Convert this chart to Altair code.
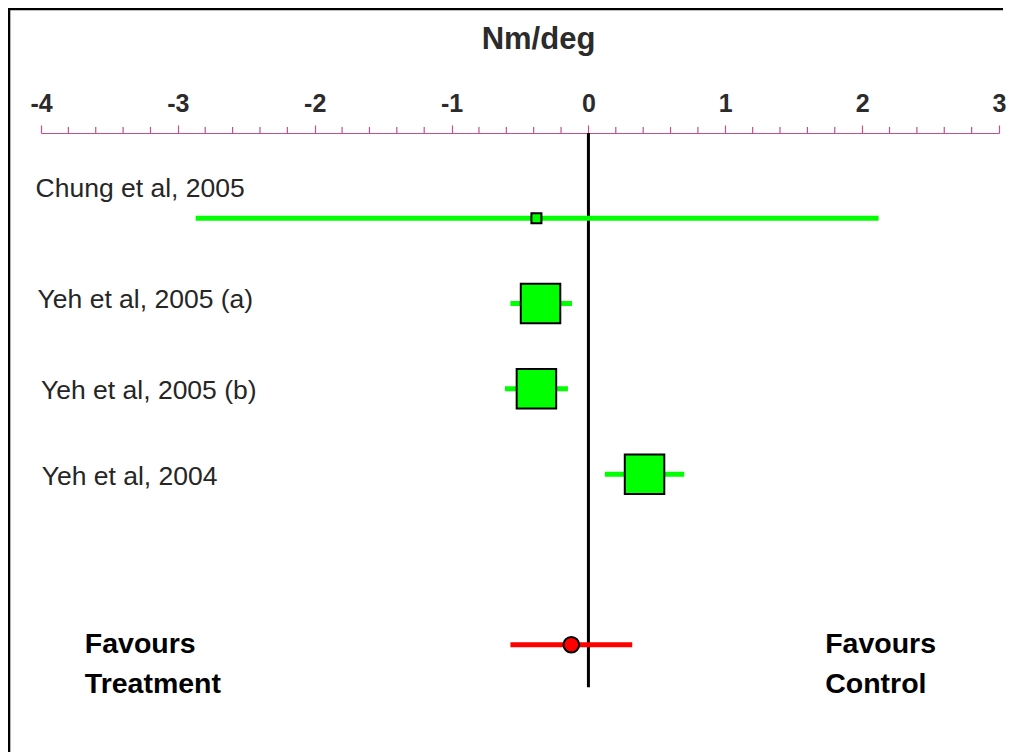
import altair as alt
import pandas as pd

# ---- data ----
studies = ["Chung et al, 2005", "Yeh et al, 2005 (a)", "Yeh et al, 2005 (b)", "Yeh et al, 2004"]
study_rows = [1, 2, 3, 4]
est = [-0.38, -0.35, -0.38, 0.41]
lo = [-2.87, -0.57, -0.61, 0.12]
hi = [2.12, -0.12, -0.15, 0.70]
weight = [100, 1560, 1560, 1560]  # marker area (relative study weight)

summary_row = [6]
summary_est = [-0.125]
summary_lo = [-0.57]
summary_hi = [0.32]

label_x = [-4.04, -4.025, -4.0, -3.995]
label_rows = [0.75, 2.05, 3.12, 4.13]

side_text = ["Favours\nTreatment", "Favours\nControl"]
side_x = [-3.68, 1.73]
side_row = [6.10, 6.10]

major_ticks = [-4, -3, -2, -1, 0, 1, 2, 3]
minor_ticks = [round(-4 + 0.2 * i, 1) for i in range(36) if i % 5 != 0]

FONT = "Liberation Sans"
AX = "#c0508f"

studies_df = pd.DataFrame({"study": studies, "row": study_rows, "est": est,
                           "lo": lo, "hi": hi, "w": weight})
labels_df = pd.DataFrame({"study": studies, "lx": label_x, "ly": label_rows})
sum_df = pd.DataFrame({"row": summary_row, "est": summary_est,
                       "lo": summary_lo, "hi": summary_hi})
side_df = pd.DataFrame({"t": side_text, "x": side_x, "y": side_row})
minor_df = pd.DataFrame({"v": minor_ticks})
zero_df = pd.DataFrame({"x": [0], "y": [0], "y2": [6.5]})

xscale = alt.Scale(domain=[-4, 3], nice=False, zero=False)
yscale = alt.Scale(domain=[0, 7], reverse=True, nice=False, zero=False)

x_axis = alt.Axis(orient="top", values=major_ticks, title="Nm/deg",
                  labelExpr="datum.value + ''",
                  titleFont=FONT, titleFontSize=31, titleFontWeight="bold",
                  titleColor="#2b2b2b", titleX=497, titleY=-85,
                  titleBaseline="alphabetic", titleAnchor="start", titleAlign="center",
                  labelFont=FONT, labelFontSize=25, labelFontWeight="bold",
                  labelColor="#2b2b2b", labelBaseline="alphabetic",
                  labelPadding=14, labelFlush=False, labelOverlap=False,
                  tickSize=8, tickColor=AX, tickWidth=1.2,
                  domainColor=AX, domainWidth=1.2, grid=False)

base_x = alt.X("lo:Q", scale=xscale, axis=x_axis)

frame = pd.DataFrame({"d": [0]})
border_top = alt.Chart(frame).mark_rect(color="black", opacity=1).encode(
    x=alt.value(-33), x2=alt.value(962), y=alt.value(-125.2), y2=alt.value(-122.7))
border_left = alt.Chart(frame).mark_rect(color="black", opacity=1).encode(
    x=alt.value(-33.2), x2=alt.value(-30.7), y=alt.value(-125), y2=alt.value(619))

minor = alt.Chart(minor_df).mark_rule(color=AX, strokeWidth=1.2).encode(
    x=alt.X("v:Q", scale=xscale), y=alt.value(-6), y2=alt.value(0))

zero = alt.Chart(zero_df).mark_rule(color="black", strokeWidth=3).encode(
    x=alt.X("x:Q", scale=xscale), y=alt.Y("y:Q", scale=yscale, axis=None), y2="y2:Q")

ci = alt.Chart(studies_df).mark_rule(color="#00ff00", strokeWidth=5).encode(
    x=base_x, x2="hi:Q", y=alt.Y("row:Q", scale=yscale, axis=None))

squares = alt.Chart(studies_df).mark_square(
    color="#00ff00", opacity=1, stroke="black", strokeWidth=2
).encode(x=alt.X("est:Q", scale=xscale), y=alt.Y("row:Q", scale=yscale),
         size=alt.Size("w:Q", scale=None, legend=None))

sum_ci = alt.Chart(sum_df).mark_rule(color="#ff0000", strokeWidth=5).encode(
    x=alt.X("lo:Q", scale=xscale), x2="hi:Q", y=alt.Y("row:Q", scale=yscale))

sum_pt = alt.Chart(sum_df).mark_circle(
    color="#ff0000", opacity=1, stroke="black", strokeWidth=2, size=245
).encode(x=alt.X("est:Q", scale=xscale), y=alt.Y("row:Q", scale=yscale))

labels = alt.Chart(labels_df).mark_text(
    align="left", baseline="alphabetic", font=FONT, fontSize=26.5, color="#262626"
).encode(x=alt.X("lx:Q", scale=xscale), y=alt.Y("ly:Q", scale=yscale), text="study:N")

side = alt.Chart(side_df).mark_text(
    align="left", baseline="alphabetic", font=FONT, fontSize=28.5, fontWeight="bold",
    color="black", lineBreak="\n", lineHeight=39.5
).encode(x=alt.X("x:Q", scale=xscale), y=alt.Y("y:Q", scale=yscale), text="t:N")

chart = alt.layer(border_top, border_left, minor, zero, ci, squares, sum_ci, sum_pt,
                  labels, side).properties(
    width=958, height=597,
    autosize=alt.AutoSizeParams(type="none"),
    padding={"left": 33, "top": 125, "right": 12, "bottom": 23},
    background="white",
).configure_view(stroke=None)

chart.save("out.html", embed_options={"renderer": "svg", "actions": False})
